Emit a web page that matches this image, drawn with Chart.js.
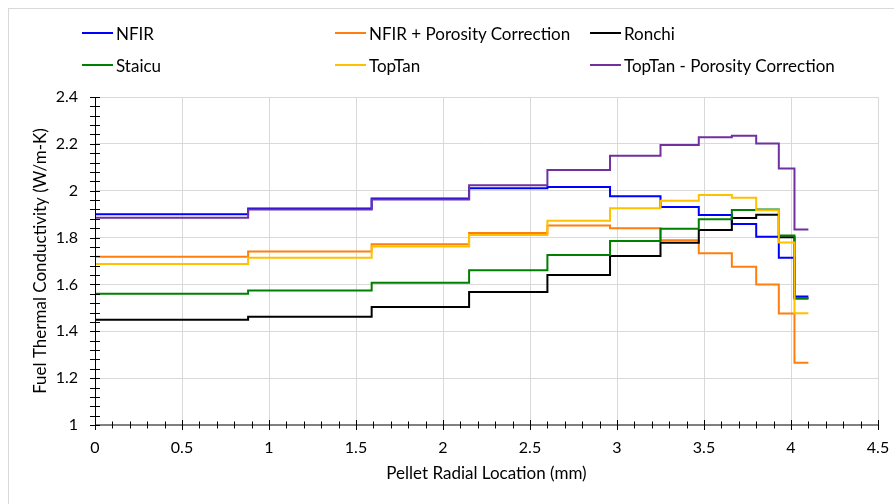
<!DOCTYPE html>
<html>
<head>
<meta charset="utf-8">
<script src="https://cdn.jsdelivr.net/npm/chart.js@4.4.1/dist/chart.umd.min.js"></script>
<style>
  html, body { margin: 0; padding: 0; background: #fff; }
  #wrap { position: relative; width: 894px; height: 504px; overflow: hidden; font-family: Lato, "Liberation Sans", sans-serif; }
  #frame { position: absolute; left: 8px; top: 8px; width: 1000px; height: 1000px; border: 1px solid #d9d9d9; }
  #chart { position: absolute; left: 0; top: 0; }
  .lg { position: absolute; display: flex; align-items: center; font-size: 17px; color: #000; white-space: nowrap; }
  .lg span.sw { display: inline-block; width: 31px; height: 2px; margin-right: 3px; }
</style>
</head>
<body>
<div id="wrap">
  <div id="frame"></div>
  <canvas id="chart" width="894" height="504"></canvas>
  <div id="legend"></div>
</div>
<script>
// radial zone edges (mm); last value repeats to the pellet edge
const radius = [0, 0.88, 1.59, 2.15, 2.60, 2.96, 3.25, 3.47, 3.66, 3.80, 3.93, 4.02, 4.10];

const nfir      = [1.900, 1.924, 1.967, 2.011, 2.016, 1.976, 1.930, 1.896, 1.858, 1.803, 1.714, 1.548, 1.548];
const nfirPC    = [1.718, 1.741, 1.772, 1.819, 1.851, 1.840, 1.789, 1.733, 1.675, 1.600, 1.476, 1.266, 1.266];
const ronchi    = [1.449, 1.462, 1.504, 1.568, 1.640, 1.721, 1.778, 1.832, 1.884, 1.897, 1.801, 1.540, 1.540];
const staicu    = [1.560, 1.574, 1.607, 1.660, 1.726, 1.785, 1.838, 1.878, 1.918, 1.920, 1.809, 1.542, 1.542];
const topTan    = [1.687, 1.714, 1.762, 1.811, 1.872, 1.925, 1.957, 1.982, 1.970, 1.917, 1.779, 1.477, 1.477];
const topTanPC  = [1.885, 1.920, 1.963, 2.023, 2.088, 2.149, 2.195, 2.228, 2.235, 2.202, 2.095, 1.834, 1.834];

const seriesNames = ['NFIR', 'NFIR + Porosity Correction', 'Ronchi', 'Staicu', 'TopTan', 'TopTan - Porosity Correction'];
const seriesData = [nfir, nfirPC, ronchi, staicu, topTan, topTanPC];
const seriesColors = ['#0000ff', '#ff7f0e', '#000000', '#008000', '#ffc000', '#7030a0'];

const xTicks = [0, 0.5, 1, 1.5, 2, 2.5, 3, 3.5, 4, 4.5];
const yTicks = [1, 1.2, 1.4, 1.6, 1.8, 2, 2.2, 2.4];

const FONT = 'Lato, "Liberation Sans", sans-serif';

function pts(arr) {
    return arr.map((v, i) => ({ x: radius[i], y: v }));
}

// excel-style axis ticks crossing the axis line, with minor ticks
const crossTicks = {
    id: 'crossTicks',
    afterDraw(chart) {
        const c = chart.ctx;
        const x = chart.scales.x, y = chart.scales.y;
        const x0 = x.getPixelForValue(0), yb = y.getPixelForValue(1);
        c.save();
        // x axis
        c.strokeStyle = '#808080';
        c.lineWidth = 2;
        c.beginPath(); c.moveTo(x0, yb); c.lineTo(x.getPixelForValue(4.5), yb); c.stroke();
        c.strokeStyle = '#000';
        c.lineWidth = 1;
        for (let i = 0; i <= 45; i++) {
            const px = Math.round(x.getPixelForValue(i / 10)) + 0.5;
            const h = i % 5 === 0 ? 5 : 3.5;
            c.beginPath(); c.moveTo(px, yb - h); c.lineTo(px, yb + h); c.stroke();
        }
        // y axis
        c.beginPath(); c.moveTo(x0 + 0.5, y.getPixelForValue(2.4)); c.lineTo(x0 + 0.5, yb); c.stroke();
        for (let i = 0; i <= 35; i++) {
            const py = Math.round(y.getPixelForValue(1 + i * 0.04)) + 0.5;
            const w = 5;
            c.beginPath(); c.moveTo(x0 - w, py); c.lineTo(x0 + w, py); c.stroke();
        }
        c.restore();
    }
};

const chart = new Chart(document.getElementById('chart'), {
    type: 'line',
    data: {
        datasets: seriesNames.map((name, i) => ({
            label: name,
            data: pts(seriesData[i]),
            borderColor: seriesColors[i],
            backgroundColor: seriesColors[i],
            borderWidth: 2,
            pointRadius: 0,
            stepped: 'before',
            fill: false,
            order: 6 - i
        }))
    },
    options: {
        responsive: false,
        animation: false,
        layout: { padding: { top: 97, right: 16, left: 0, bottom: 0 } },
        plugins: {
            legend: { display: false },
            tooltip: { enabled: false }
        },
        scales: {
            x: {
                type: 'linear',
                min: 0, max: 4.5,
                afterBuildTicks: s => { s.ticks = xTicks.map(v => ({ value: v })); },
                afterFit: s => { s.height = 79; s.paddingLeft = 0; s.paddingRight = 0; },
                grid: { color: '#d9d9d9', drawTicks: false },
                border: { display: false },
                ticks: { padding: 13, color: '#000', font: { family: FONT, size: 16 }, maxRotation: 0,
                         callback: v => String(v) },
                title: {
                    display: true, text: 'Pellet Radial Location (mm)', color: '#000',
                    font: { family: FONT, size: 17 }, padding: { top: 0, bottom: 20 }
                }
            },
            y: {
                min: 1, max: 2.4,
                afterBuildTicks: s => { s.ticks = yTicks.map(v => ({ value: v })); },
                afterFit: s => { s.width = 95; },
                grid: { color: '#d9d9d9', drawTicks: false },
                border: { display: false },
                ticks: { padding: 17, color: '#000', font: { family: FONT, size: 16 },
                         callback: v => String(v) },
                title: {
                    display: true, text: 'Fuel Thermal Conductivity (W/m-K)', color: '#000',
                    font: { family: FONT, size: 17 }, padding: { top: 30, bottom: 0 }
                }
            }
        }
    },
    plugins: [crossTicks]
});

// legend in three columns, two rows
const legend = document.getElementById('legend');
const colLeft = [82, 335, 590];
const rowMid = [33, 65];
chart.data.datasets.forEach((ds, i) => {
    const item = document.createElement('div');
    item.className = 'lg';
    item.style.left = colLeft[i % 3] + 'px';
    item.style.top = (rowMid[Math.floor(i / 3)] - 10) + 'px';
    item.style.height = '20px';
    const sw = document.createElement('span');
    sw.className = 'sw';
    sw.style.background = ds.borderColor;
    item.appendChild(sw);
    item.appendChild(document.createTextNode(ds.label));
    legend.appendChild(item);
});
</script>
</body>
</html>
